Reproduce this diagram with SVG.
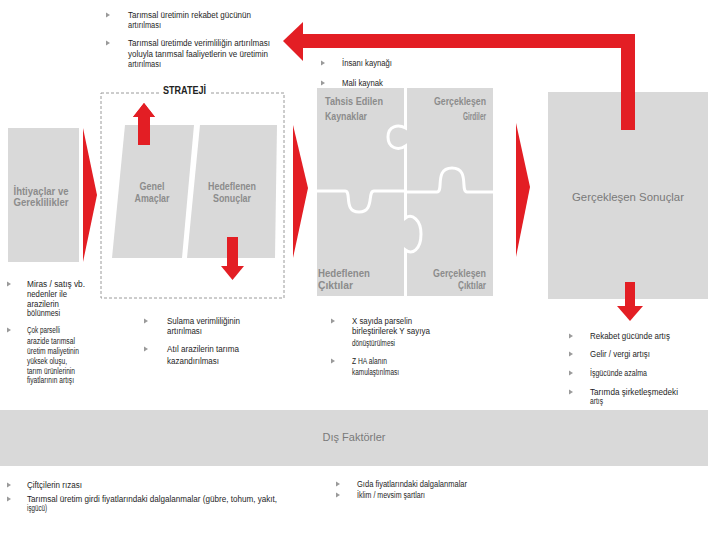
<svg xmlns="http://www.w3.org/2000/svg" width="720" height="540" viewBox="0 0 720 540">
<defs>
<style>
.box{fill:#d9d9d9}
.red{fill:#e31e24}
.lbl{font-family:"Liberation Sans",Arial,sans-serif;font-size:10px;font-weight:bold;fill:#8c8c8c}
.t{font-family:"Liberation Sans",Arial,sans-serif;font-size:8.5px;fill:#1e1e1e}
.seam{fill:none;stroke:#fff;stroke-width:3}
</style>
<polygon id="b" points="0,-2.5 4,0 0,2.5" fill="#9a9a9a"/>
</defs>
<rect width="720" height="540" fill="#fff"/>

<g id="connectors">
<polygon class="red" points="83,128 97,195 83,262"/>
<polygon class="red" points="293,125 308,188 293,258"/>
<polygon class="red" points="516,123 530,187 516,257"/>
<rect class="red" x="300" y="34" width="335" height="14"/>
<rect class="red" x="621" y="34" width="14" height="96"/>
<polygon class="red" points="283,41 303,22 303,61"/>
<rect class="red" x="138" y="116" width="12" height="29"/>
<polygon class="red" points="133,117 144,103 155,117"/>
<rect class="red" x="227" y="237" width="11" height="30"/>
<polygon class="red" points="221,266 244,266 232.5,280"/>
</g>

<g id="ihtiyaclar">
<rect class="box" x="8" y="128" width="71" height="134"/>
<text class="lbl" x="41" y="195" text-anchor="middle" textLength="55" lengthAdjust="spacingAndGlyphs">İhtiyaçlar ve</text>
<text class="lbl" x="41" y="206" text-anchor="middle" textLength="55" lengthAdjust="spacingAndGlyphs">Gereklilikler</text>
</g>

<g id="strateji">
<rect x="101" y="93" width="183" height="205" fill="none" stroke="#9a9a9a" stroke-width="1" stroke-dasharray="3,2"/>
<rect x="160" y="84" width="50" height="14" fill="#fff"/>
<text x="163" y="94" font-family="'Liberation Sans',Arial,sans-serif" font-size="10.5" font-weight="bold" fill="#222" textLength="43" lengthAdjust="spacingAndGlyphs">STRATEJİ</text>
</g>

<g id="genel-amaclar">
<polygon class="box" points="125,125 194,125 182,258 112,258"/>
<rect class="red" x="138" y="116" width="12" height="29"/>
<polygon class="red" points="133,117 144,103 155,117"/>
<text class="lbl" x="152" y="190" text-anchor="middle" textLength="25" lengthAdjust="spacingAndGlyphs">Genel</text>
<text class="lbl" x="152" y="202" text-anchor="middle" textLength="35" lengthAdjust="spacingAndGlyphs">Amaçlar</text>
</g>

<g id="hedeflenen-sonuclar">
<polygon class="box" points="200,125 277,125 275,258 187,258"/>
<rect class="red" x="227" y="237" width="11" height="30"/>
<text class="lbl" x="232" y="190" text-anchor="middle" textLength="48" lengthAdjust="spacingAndGlyphs">Hedeflenen</text>
<text class="lbl" x="232" y="202" text-anchor="middle" textLength="38" lengthAdjust="spacingAndGlyphs">Sonuçlar</text>
</g>

<g id="puzzle">
<rect class="box" x="317" y="88" width="176" height="208"/>
<path class="seam" d="M405.5,88 L405.5,128 C398,124 388,126 388,137 C388,148 398,151 405.5,146 L405.5,191"/>
<path class="seam" d="M317,191 L345,191 C352,191 343,212 359,212 C375,212 367,191 374,191 L405.5,191"/>
<path class="seam" d="M405.5,192 L437,192 C444,192 434,168 452,168 C470,168 460,192 467,192 L493,192"/>
<path class="seam" d="M405.5,191 L405.5,218 C412,213 421,220 421,234 C421,250 412,255 405.5,250 L405.5,296"/>
</g>
<g id="tahsis-edilen">
<text class="lbl" x="325" y="105" textLength="58" lengthAdjust="spacingAndGlyphs">Tahsis Edilen</text>
<text class="lbl" x="325" y="120" textLength="42" lengthAdjust="spacingAndGlyphs">Kaynaklar</text>
</g>
<g id="gerceklesen-girdiler">
<text class="lbl" x="486" y="105" text-anchor="end" textLength="52" lengthAdjust="spacingAndGlyphs">Gerçekleşen</text>
<text class="lbl" x="486" y="120" text-anchor="end" textLength="23" lengthAdjust="spacingAndGlyphs">Girdiler</text>
</g>
<g id="hedeflenen-ciktilar">
<text class="lbl" x="318" y="277" textLength="52" lengthAdjust="spacingAndGlyphs">Hedeflenen</text>
<text class="lbl" x="318" y="289" textLength="35" lengthAdjust="spacingAndGlyphs">Çıktılar</text>
</g>
<g id="gerceklesen-ciktilar">
<text class="lbl" x="486" y="277" text-anchor="end" textLength="53" lengthAdjust="spacingAndGlyphs">Gerçekleşen</text>
<text class="lbl" x="486" y="289" text-anchor="end" textLength="28" lengthAdjust="spacingAndGlyphs">Çıktılar</text>
</g>

<g id="gerceklesen-sonuclar">
<rect class="box" x="548" y="92" width="160" height="207"/>
<rect class="red" x="621" y="92" width="14" height="38"/>
<rect class="red" x="625" y="282" width="10" height="25"/>
<polygon class="red" points="617,306 643,306 630,321"/>
<text x="628" y="201" text-anchor="middle" font-family="'Liberation Sans',Arial,sans-serif" font-size="11" fill="#7a7a7a" textLength="112" lengthAdjust="spacingAndGlyphs">Gerçekleşen Sonuçlar</text>
</g>

<g id="dis-faktorler">
<rect class="box" x="0" y="410" width="708" height="56"/>
<text x="354" y="441" text-anchor="middle" font-family="'Liberation Sans',Arial,sans-serif" font-size="11" fill="#7a7a7a" textLength="63" lengthAdjust="spacingAndGlyphs">Dış Faktörler</text>
</g>

<g id="list-top">
<use href="#b" x="106" y="15"/>
<text class="t" x="128" y="18" textLength="123" lengthAdjust="spacingAndGlyphs">Tarımsal üretimin rekabet gücünün</text>
<text class="t" x="128" y="28" textLength="33" lengthAdjust="spacingAndGlyphs">artırılması</text>
<use href="#b" x="106" y="43"/>
<text class="t" x="128" y="46" textLength="142" lengthAdjust="spacingAndGlyphs">Tarımsal üretimde verimliliğin artırılması</text>
<text class="t" x="128" y="57" textLength="140" lengthAdjust="spacingAndGlyphs">yoluyla tarımsal faaliyetlerin ve üretimin</text>
<text class="t" x="128" y="67" textLength="33" lengthAdjust="spacingAndGlyphs">artırılması</text>
</g>

<g id="list-kaynak">
<use href="#b" x="321" y="63"/>
<text class="t" x="342" y="66" textLength="50" lengthAdjust="spacingAndGlyphs">İnsanı kaynağı</text>
<use href="#b" x="321" y="83"/>
<text class="t" x="342" y="86" textLength="41" lengthAdjust="spacingAndGlyphs">Mali kaynak</text>
</g>

<g id="list-left">
<use href="#b" x="7" y="284"/>
<text class="t" x="27" y="287" textLength="58" lengthAdjust="spacingAndGlyphs">Miras / satış  vb.</text>
<text class="t" x="27" y="297" textLength="40" lengthAdjust="spacingAndGlyphs">nedenler ile</text>
<text class="t" x="27" y="307" textLength="32" lengthAdjust="spacingAndGlyphs">arazilerin</text>
<text class="t" x="27" y="316" textLength="33" lengthAdjust="spacingAndGlyphs">bölünmesi</text>
<use href="#b" x="7" y="330"/>
<text class="t" x="27" y="333" textLength="33" lengthAdjust="spacingAndGlyphs">Çok parselli</text>
<text class="t" x="27" y="344" textLength="48" lengthAdjust="spacingAndGlyphs">arazide tarımsal</text>
<text class="t" x="27" y="354" textLength="52" lengthAdjust="spacingAndGlyphs">üretim maliyetinin</text>
<text class="t" x="27" y="364" textLength="40" lengthAdjust="spacingAndGlyphs">yüksek oluşu,</text>
<text class="t" x="27" y="374" textLength="48" lengthAdjust="spacingAndGlyphs">tarım ürünlerinin</text>
<text class="t" x="27" y="383" textLength="47" lengthAdjust="spacingAndGlyphs">fiyatlarının artışı</text>
</g>

<g id="list-strateji">
<use href="#b" x="144" y="321"/>
<text class="t" x="167" y="324" textLength="73" lengthAdjust="spacingAndGlyphs">Sulama verimliliğinin</text>
<text class="t" x="167" y="334" textLength="35" lengthAdjust="spacingAndGlyphs">artırılması</text>
<use href="#b" x="144" y="349"/>
<text class="t" x="167" y="352" textLength="72" lengthAdjust="spacingAndGlyphs">Atıl arazilerin tarıma</text>
<text class="t" x="167" y="364" textLength="52" lengthAdjust="spacingAndGlyphs">kazandırılması</text>
</g>

<g id="list-puzzle">
<use href="#b" x="331" y="321"/>
<text class="t" x="352" y="324" textLength="60" lengthAdjust="spacingAndGlyphs">X sayıda parselin</text>
<text class="t" x="352" y="334" textLength="78" lengthAdjust="spacingAndGlyphs">birleştirilerek Y sayıya</text>
<text class="t" x="352" y="346" textLength="43" lengthAdjust="spacingAndGlyphs">dönüştürülmesi</text>
<use href="#b" x="331" y="361"/>
<text class="t" x="352" y="364" textLength="35" lengthAdjust="spacingAndGlyphs">Z HA alanın</text>
<text class="t" x="352" y="375" textLength="47" lengthAdjust="spacingAndGlyphs">kamulaştırılması</text>
</g>

<g id="list-sonuc">
<use href="#b" x="569" y="336"/>
<text class="t" x="590" y="339" textLength="80" lengthAdjust="spacingAndGlyphs">Rekabet gücünde artış</text>
<use href="#b" x="569" y="354"/>
<text class="t" x="590" y="357" textLength="60" lengthAdjust="spacingAndGlyphs">Gelir / vergi artışı</text>
<use href="#b" x="569" y="373"/>
<text class="t" x="590" y="376" textLength="57" lengthAdjust="spacingAndGlyphs">İşgücünde azalma</text>
<use href="#b" x="569" y="392"/>
<text class="t" x="590" y="395" textLength="88" lengthAdjust="spacingAndGlyphs">Tarımda şirketleşmedeki</text>
<text class="t" x="590" y="404" textLength="13" lengthAdjust="spacingAndGlyphs">artış</text>
</g>

<g id="list-dis-left">
<use href="#b" x="7" y="485"/>
<text class="t" x="27" y="488" textLength="55" lengthAdjust="spacingAndGlyphs">Çiftçilerin rızası</text>
<use href="#b" x="7" y="499"/>
<text class="t" x="27" y="502" textLength="250" lengthAdjust="spacingAndGlyphs">Tarımsal üretim girdi fiyatlarındaki dalgalanmalar (gübre, tohum, yakıt,</text>
<text class="t" x="27" y="511" textLength="20" lengthAdjust="spacingAndGlyphs">işgücü)</text>
</g>

<g id="list-dis-right">
<use href="#b" x="336" y="484"/>
<text class="t" x="357" y="487" textLength="110" lengthAdjust="spacingAndGlyphs">Gıda fiyatlarındaki dalgalanmalar</text>
<use href="#b" x="336" y="495"/>
<text class="t" x="357" y="498" textLength="68" lengthAdjust="spacingAndGlyphs">İklim / mevsim şartları</text>
</g>
</svg>
